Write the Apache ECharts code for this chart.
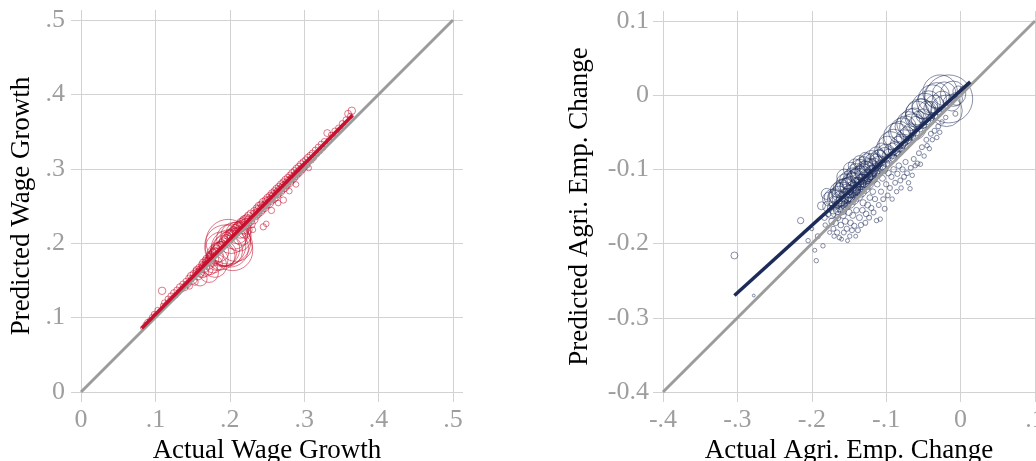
<!DOCTYPE html>
<html>
<head>
<meta charset="utf-8">
<script src="https://cdn.jsdelivr.net/npm/echarts@6/dist/echarts.min.js"></script>
<style>html,body{margin:0;padding:0;background:#fff}#c{width:1036px;height:461px}</style>
</head>
<body>
<div id="c"></div>
<script>
// ---------- Data ----------
const leftXTicks = ['0', '.1', '.2', '.3', '.4', '.5'];
const leftYTicks = ['0', '.1', '.2', '.3', '.4', '.5'];
const rightXTicks = ['-.4', '-.3', '-.2', '-.1', '0', '.1'];
const rightYTicks = ['-0.4', '-0.3', '-0.2', '-0.1', '0', '0.1'];

const leftDiagonal = [[0, 0], [0.5, 0.5]];
const rightDiagonal = [[-0.4, -0.4], [0.1, 0.1]];
const leftFit = [[0.0816, 0.0856], [0.365, 0.372]];
const rightFit = [[-0.304, -0.270], [0.013, 0.018]];

// [actual, predicted, weight]
const leftPoints = [
[0.083,0.086,5],[0.086,0.091,4],[0.089,0.094,6],[0.092,0.097,4],[0.095,0.101,5],[0.098,0.105,6],[0.1,0.104,4],[0.103,0.11,8],[0.106,0.109,5],[0.109,0.136,14],[0.11,0.116,6],[0.112,0.12,8],[0.115,0.119,5],[0.117,0.125,9],[0.119,0.123,6],[0.121,0.129,10],[0.123,0.126,6],[0.125,0.133,12],[0.127,0.13,8],[0.129,0.137,10],[0.131,0.134,6],[0.133,0.141,12],[0.135,0.138,8],[0.137,0.145,10],[0.139,0.141,14],[0.141,0.149,8],[0.143,0.145,12],[0.145,0.153,10],[0.146,0.142,8],[0.148,0.156,14],[0.15,0.151,20],[0.151,0.159,10],[0.153,0.148,12],[0.154,0.163,8],
[0.156,0.164,14],[0.157,0.158,30],[0.159,0.167,12],[0.16,0.161,22],[0.16,0.152,50],[0.162,0.171,10],[0.163,0.162,40],[0.164,0.174,12],[0.166,0.168,28],[0.167,0.177,10],[0.168,0.165,50],[0.169,0.179,14],[0.171,0.173,36],[0.172,0.16,90],[0.172,0.183,10],[0.173,0.168,60],[0.174,0.184,16],[0.176,0.178,45],[0.177,0.188,12],[0.178,0.172,80],[0.179,0.19,14],[0.18,0.17,140],[0.181,0.183,60],[0.182,0.193,12],[0.183,0.178,120],[0.184,0.195,16],[0.186,0.188,90],[0.187,0.198,12],[0.188,0.183,200],[0.189,0.2,14],[0.19,0.192,300],[0.191,0.202,16],[0.192,0.186,160],[0.193,0.205,12],[0.194,0.197,420],[0.195,0.207,14],[0.196,0.19,250],[0.197,0.21,12],[0.198,0.202,500],[0.199,0.212,16],[0.2,0.193,350],[0.201,0.214,12],[0.202,0.206,220],[0.203,0.216,14],[0.204,0.19,400],[0.205,0.218,12],[0.206,0.21,180],[0.207,0.22,16],[0.208,0.198,280],[0.209,0.222,12],[0.21,0.214,120],[0.211,0.224,14],[0.212,0.205,140],[0.213,0.226,12],[0.214,0.218,70],[0.215,0.228,16],[0.216,0.21,90],[0.217,0.23,12],[0.218,0.222,50],[0.219,0.232,14],[0.22,0.215,40],[0.221,0.233,12],[0.222,0.226,30],[0.223,0.235,10],[0.224,0.218,20],[0.225,0.237,14],[0.226,0.23,25],[0.228,0.24,12],[0.229,0.226,16],[0.231,0.218,8],[0.232,0.232,20],
[0.233,0.243,14],[0.234,0.238,25],[0.236,0.247,12],[0.237,0.24,20],[0.239,0.25,14],[0.24,0.244,30],[0.242,0.252,12],[0.243,0.246,20],[0.245,0.222,10],[0.249,0.226,8],[0.245,0.255,16],[0.246,0.249,25],[0.248,0.258,12],[0.249,0.252,18],[0.251,0.261,14],[0.252,0.255,30],[0.254,0.264,12],[0.255,0.258,20],[0.256,0.244,10],[0.257,0.267,14],[0.258,0.261,25],[0.26,0.27,12],[0.261,0.264,30],[0.263,0.273,14],[0.264,0.267,20],[0.265,0.254,8],[0.266,0.276,12],[0.267,0.27,25],[0.269,0.279,14],[0.27,0.273,20],[0.272,0.258,10],[0.272,0.282,12],[0.273,0.276,25],[0.275,0.285,14],[0.276,0.279,18],[0.278,0.288,12],[0.279,0.282,25],[0.28,0.27,8],[0.281,0.291,12],[0.282,0.285,18],[0.284,0.294,14],[0.285,0.288,20],[0.287,0.297,12],[0.288,0.291,18],[0.289,0.279,8],[0.29,0.3,14],[0.291,0.294,16],[0.293,0.303,12],[0.294,0.297,18],[0.296,0.306,14],[0.297,0.3,16],[0.299,0.309,12],[0.3,0.303,14],[0.302,0.312,10],[0.303,0.306,14],[0.305,0.315,12],[0.306,0.301,8],[0.308,0.318,10],[0.309,0.312,12],[0.311,0.321,10],[0.313,0.315,8],[0.315,0.325,10],[0.317,0.32,8],[0.319,0.329,10],[0.321,0.324,8],[0.323,0.333,10],[0.325,0.328,8],[0.327,0.337,8],[0.329,0.333,6],[0.331,0.348,12],[0.333,0.338,8],[0.336,0.346,6],[0.338,0.342,6],[0.341,0.351,8],[0.343,0.348,6],[0.346,0.355,8],[0.348,0.353,6],[0.351,0.361,8],[0.353,0.358,6],[0.356,0.366,8],[0.359,0.374,12],[0.362,0.371,8],[0.364,0.378,14]
];

const rightPoints = [
[-0.304,-0.216,12],[-0.278,-0.27,2],[-0.215,-0.169,10],[-0.205,-0.196,5],[-0.194,-0.223,5],[-0.196,-0.209,4],[-0.185,-0.203,5],[-0.187,-0.149,16],[-0.2,-0.18,4],[-0.192,-0.19,6],[-0.18,-0.133,30],[-0.183,-0.165,8],
[-0.182,-0.175,5],[-0.178,-0.16,8],[-0.176,-0.185,4],[-0.173,-0.17,10],[-0.171,-0.18,6],[-0.17,-0.19,5],[-0.168,-0.172,8],[-0.166,-0.185,7],[-0.165,-0.165,9],[-0.163,-0.192,5],[-0.161,-0.175,8],[-0.16,-0.194,4],[-0.158,-0.162,10],[-0.157,-0.185,6],[-0.155,-0.17,9],[-0.153,-0.18,7],[-0.152,-0.196,4],[-0.15,-0.158,10],[-0.149,-0.19,5],[-0.148,-0.172,8],[-0.146,-0.182,6],[-0.145,-0.162,9],[-0.143,-0.176,7],[-0.141,-0.19,4],[-0.14,-0.155,8],[-0.138,-0.182,6],[-0.136,-0.165,9],[-0.134,-0.175,7],[-0.132,-0.155,8],[-0.131,-0.145,10],[-0.128,-0.172,6],[-0.127,-0.16,8],[-0.125,-0.148,9],[-0.123,-0.165,6],[-0.122,-0.138,8],[-0.12,-0.152,7],[-0.118,-0.13,8],[-0.117,-0.158,6],[-0.115,-0.14,7],[-0.113,-0.169,5],[-0.112,-0.12,8],[-0.11,-0.148,6],[-0.108,-0.167,5],[-0.107,-0.13,7],[-0.105,-0.112,9],[-0.104,-0.14,6],[-0.102,-0.153,6],[-0.1,-0.12,7],[-0.098,-0.135,6],[-0.097,-0.105,8],[-0.095,-0.125,6],[-0.093,-0.11,7],[-0.092,-0.14,5],[-0.09,-0.1,8],[-0.088,-0.118,6],[-0.086,-0.13,5],[-0.085,-0.106,7],[-0.083,-0.095,8],[-0.081,-0.115,6],[-0.08,-0.125,5],[-0.078,-0.1,7],[-0.076,-0.11,6],[-0.074,-0.09,7],[-0.072,-0.105,6],[-0.07,-0.118,5],[-0.068,-0.126,5],[-0.067,-0.098,6],[-0.065,-0.108,5],[-0.063,-0.086,6],[-0.061,-0.095,5],[-0.058,-0.092,6],[-0.056,-0.078,6],[-0.054,-0.093,5],[-0.052,-0.07,6],[-0.049,-0.082,5],[-0.046,-0.06,6],[-0.045,-0.068,5],[-0.042,-0.072,5],[-0.04,-0.052,6],[-0.038,-0.06,5],[-0.035,-0.048,6],[-0.032,-0.057,5],[-0.03,-0.042,6],[-0.028,-0.05,5],[-0.025,-0.036,5],[-0.02,-0.03,5],[-0.007,-0.025,6],
[-0.165,-0.155,20],[-0.158,-0.145,25],[-0.15,-0.138,30],[-0.145,-0.13,25],[-0.14,-0.128,20],[-0.135,-0.12,30],[-0.13,-0.118,20],[-0.125,-0.11,25],[-0.12,-0.108,20],[-0.115,-0.104,20],[-0.11,-0.1,18],[-0.105,-0.095,16],[-0.1,-0.092,14],
[-0.168,-0.145,40],[-0.162,-0.14,60],[-0.16,-0.15,35],[-0.156,-0.125,90],[-0.154,-0.135,50],[-0.151,-0.122,70],[-0.149,-0.13,45],[-0.146,-0.118,100],[-0.144,-0.125,50],[-0.141,-0.112,80],[-0.139,-0.12,45],[-0.136,-0.108,90],[-0.134,-0.115,40],[-0.131,-0.104,70],[-0.129,-0.112,40],[-0.126,-0.1,60],[-0.124,-0.108,35],[-0.121,-0.096,50],[-0.119,-0.102,30],[-0.116,-0.094,45],[-0.114,-0.088,40],[-0.111,-0.09,30],[-0.109,-0.082,40],[-0.156,-0.11,60],[-0.148,-0.1,50],[-0.142,-0.095,45],[-0.136,-0.09,40],[-0.128,-0.085,35],[-0.09,-0.085,14],[-0.085,-0.078,12],[-0.08,-0.072,14],[-0.075,-0.068,12],[-0.07,-0.06,14],[-0.065,-0.055,12],[-0.06,-0.05,14],[-0.055,-0.045,12],[-0.05,-0.04,12],[-0.045,-0.035,12],[-0.04,-0.03,12],[-0.035,-0.028,10],[-0.03,-0.022,10],
[-0.178,-0.15,30],[-0.176,-0.14,50],[-0.174,-0.16,20],[-0.172,-0.138,70],[-0.171,-0.152,35],[-0.169,-0.135,45],[-0.168,-0.158,25],[-0.167,-0.14,80],[-0.165,-0.128,55],[-0.164,-0.15,30],[-0.163,-0.136,100],[-0.161,-0.145,40],[-0.16,-0.125,70],[-0.159,-0.155,20],[-0.158,-0.132,120],[-0.157,-0.14,50],[-0.155,-0.118,80],[-0.154,-0.148,25],[-0.153,-0.128,140],[-0.152,-0.136,60],[-0.15,-0.115,90],[-0.149,-0.145,30],[-0.148,-0.124,110],[-0.147,-0.132,70],[-0.145,-0.11,80],[-0.144,-0.14,30],[-0.143,-0.12,130],[-0.142,-0.128,60],[-0.14,-0.105,90],[-0.139,-0.135,35],[-0.138,-0.115,150],[-0.137,-0.122,70],[-0.135,-0.1,100],[-0.134,-0.13,30],[-0.133,-0.11,120],[-0.132,-0.117,60],[-0.13,-0.095,80],[-0.129,-0.125,30],[-0.128,-0.103,110],[-0.127,-0.11,50],[-0.125,-0.09,70],[-0.124,-0.12,25],[-0.123,-0.098,90],[-0.121,-0.105,40],[-0.12,-0.085,60],[-0.118,-0.112,25],[-0.117,-0.09,80],[-0.115,-0.1,35],[-0.113,-0.08,60],[-0.112,-0.105,25],[-0.11,-0.085,70],[-0.108,-0.095,30],[-0.106,-0.074,50],[-0.104,-0.1,20],[-0.102,-0.08,50],
[-0.1,-0.078,80],[-0.098,-0.07,120],[-0.096,-0.082,50],[-0.094,-0.065,140],[-0.092,-0.075,60],[-0.09,-0.06,110],[-0.088,-0.072,50],[-0.086,-0.055,170],[-0.084,-0.066,60],[-0.082,-0.05,120],[-0.08,-0.062,50],[-0.078,-0.047,150],[-0.076,-0.057,60],[-0.074,-0.042,110],[-0.072,-0.052,50],[-0.07,-0.038,140],[-0.068,-0.048,50],[-0.066,-0.033,120],[-0.064,-0.043,180],[-0.062,-0.03,90],[-0.06,-0.038,50],[-0.058,-0.024,140],[-0.056,-0.032,60],[-0.054,-0.025,220],[-0.052,-0.018,100],[-0.05,-0.028,50],[-0.048,-0.015,170],[-0.045,-0.02,80],[-0.043,-0.01,140],[-0.04,-0.018,50],[-0.038,-0.005,200],[-0.035,-0.012,80],[-0.032,0.0,160],[-0.0275,0.004,300],[-0.025,-0.008,100],[-0.022,0.002,140],[-0.019,-0.021,250],[-0.016,-0.005,576],[-0.012,-0.01,70],[-0.01,0.002,160],[-0.006,-0.005,40],[-0.003,0.005,30],[0.003,0.008,8]
];

// ---------- Styling ----------
const FONT = 'Liberation Serif';
const GRIDC = '#d2d2d2';
const LABC = '#9e9e9e';
const RED = '#c8102e';
const NAVY = '#1c2b58';

function tickFmt(ticks, min) {
  return function (v) { return ticks[Math.round((v - min) / 0.1)] || ''; };
}

function mainAxis(gridIndex, min, max, ticks, name, isY, nameGap, labelMargin) {
  return {
    gridIndex, type: 'value', min, max, interval: 0.1,
    position: isY ? 'left' : 'bottom',
    axisLine: { show: false, onZero: false },
    axisTick: { show: true, length: 10, lineStyle: { color: GRIDC, width: 1 } },
    splitLine: { show: true, lineStyle: { color: GRIDC, width: 1 } },
    axisLabel: {
      formatter: tickFmt(ticks, min), margin: labelMargin,
      fontSize: 26, color: LABC, fontFamily: FONT, lineHeight: 26
    },
    name, nameLocation: 'middle', nameGap,
    nameTextStyle: { fontSize: 27, color: '#000', fontFamily: FONT }
  };
}
function extAxis(gridIndex, min, max, isY) {
  return {
    gridIndex, type: 'value', min, max, interval: 0.1,
    position: isY ? 'right' : 'top',
    axisLine: { show: false, onZero: false },
    axisTick: { show: true, length: 10, lineStyle: { color: GRIDC, width: 1 } },
    splitLine: { show: false },
    axisLabel: { show: false }
  };
}

const sizeFn = d => 2 * Math.sqrt(d[2]);

const option = {
  animation: false,
  backgroundColor: '#fff',
  textStyle: { fontFamily: FONT },
  grid: [
    { left: 81, top: 20, width: 372, height: 372, outerBoundsMode: 'none', containLabel: false },
    { left: 663, top: 21, width: 372, height: 371, outerBoundsMode: 'none', containLabel: false }
  ],
  xAxis: [
    mainAxis(0, 0, 0.5, leftXTicks, 'Actual Wage Growth', false, 39, 15),
    extAxis(0, 0, 0.5, false),
    mainAxis(1, -0.4, 0.1, rightXTicks, 'Actual Agri. Emp. Change', false, 39, 15),
    extAxis(1, -0.4, 0.1, false)
  ],
  yAxis: [
    mainAxis(0, 0, 0.5, leftYTicks, 'Predicted Wage Growth', true, 46, 16),
    extAxis(0, 0, 0.5, true),
    mainAxis(1, -0.4, 0.1, rightYTicks, 'Predicted Agri. Emp. Change', true, 70, 14),
    extAxis(1, -0.4, 0.1, true)
  ],
  series: [
    { type: 'scatter', xAxisIndex: 0, yAxisIndex: 0, data: leftPoints, symbolSize: sizeFn,
      itemStyle: { color: 'rgba(0,0,0,0)', borderColor: 'rgba(200,16,46,0.7)', borderWidth: 1 } },
    { type: 'line', xAxisIndex: 0, yAxisIndex: 0, data: leftDiagonal, symbol: 'none',
      lineStyle: { color: '#9c9c9c', width: 3 } },
    { type: 'line', xAxisIndex: 0, yAxisIndex: 0, data: leftFit, symbol: 'none',
      lineStyle: { color: RED, width: 3.5 } },
    { type: 'scatter', xAxisIndex: 2, yAxisIndex: 2, data: rightPoints, symbolSize: sizeFn,
      itemStyle: { color: 'rgba(0,0,0,0)', borderColor: 'rgba(28,43,88,0.65)', borderWidth: 1 } },
    { type: 'line', xAxisIndex: 2, yAxisIndex: 2, data: rightDiagonal, symbol: 'none',
      lineStyle: { color: '#9c9c9c', width: 3 } },
    { type: 'line', xAxisIndex: 2, yAxisIndex: 2, data: rightFit, symbol: 'none',
      lineStyle: { color: NAVY, width: 3.5 } }
  ]
};

const chart = echarts.init(document.getElementById('c'), null, { renderer: 'canvas' });
chart.setOption(option);
</script>
</body>
</html>
